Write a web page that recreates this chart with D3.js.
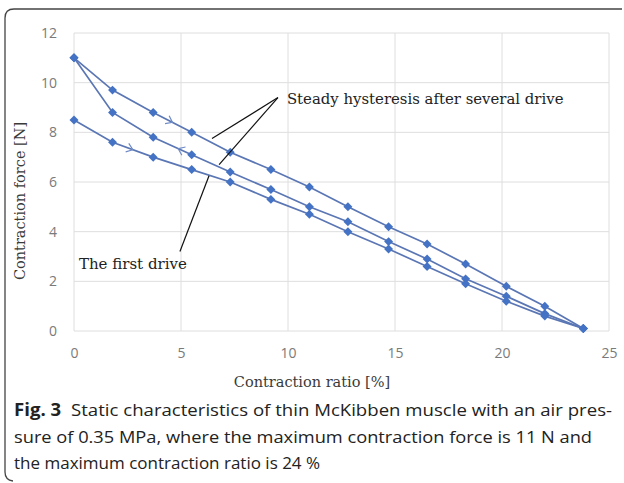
<!DOCTYPE html>
<html>
<head>
<meta charset="utf-8">
<script src="https://cdn.jsdelivr.net/npm/d3@7"></script>
<style>
  html, body { margin: 0; padding: 0; background: #fff; }
  svg { display: block; }
</style>
</head>
<body>
<div id="chart"></div>
<script>
// Static characteristics of thin McKibben muscle (Fig. 3)
var ratio = [0, 1.8, 3.7, 5.5, 7.3, 9.2, 11, 12.8, 14.7, 16.5, 18.3, 20.2, 22, 23.8];
var steadyUpper = [11.0, 9.7, 8.8, 8.0, 7.2, 6.5, 5.8, 5.0, 4.2, 3.5, 2.7, 1.8, 1.0, 0.1];
var steadyLower = [11.0, 8.8, 7.8, 7.1, 6.4, 5.7, 5.0, 4.4, 3.6, 2.9, 2.1, 1.4, 0.7, 0.1];
var firstDrive = [8.5, 7.6, 7.0, 6.5, 6.0, 5.3, 4.7, 4.0, 3.3, 2.6, 1.9, 1.2, 0.6, 0.1];
var xTicks = [0, 5, 10, 15, 20, 25];
var yTicks = [0, 2, 4, 6, 8, 10, 12];

var captionLines = [
  "Static characteristics of thin McKibben muscle with an air pres-",
  "sure of 0.35 MPa, where the maximum contraction force is 11 N and",
  "the maximum contraction ratio is 24 %"
];

(function () {
  var width = 624, height = 483;
  var left = 74, right = 609, top = 33, bottom = 331;
  var lineColor = "#5a76b4", markColor = "#4472c4";
  var serif = "'DejaVu Serif', 'Liberation Serif', serif";

  var svg = d3.select("#chart").append("svg")
    .attr("width", width).attr("height", height);

  // figure frame: top rule and left rule with rounded corners
  svg.append("path")
    .attr("d", "M622,9 L14,9 Q5,9 5,18 L5,472 Q5,480 13,481")
    .attr("fill", "none").attr("stroke", "#444").attr("stroke-width", 1.3);

  var x = d3.scaleLinear().domain([0, 25]).range([left, right]);
  var y = d3.scaleLinear().domain([0, 12]).range([bottom, top]);

  // grid
  svg.append("g").selectAll("line").data(xTicks).join("line")
    .attr("x1", function (d) { return x(d); }).attr("x2", function (d) { return x(d); })
    .attr("y1", y(0)).attr("y2", y(12))
    .attr("stroke", "#dedede").attr("stroke-width", 1);
  svg.append("g").selectAll("line").data(yTicks).join("line")
    .attr("y1", function (d) { return y(d); }).attr("y2", function (d) { return y(d); })
    .attr("x1", x(0)).attr("x2", x(25))
    .attr("stroke", "#dedede").attr("stroke-width", 1);

  // axes (labels only, Excel-like)
  var xAxis = svg.append("g").attr("transform", "translate(0," + (bottom + 14) + ")")
    .call(d3.axisBottom(x).tickValues(xTicks).tickSize(0).tickPadding(3));
  var yAxis = svg.append("g").attr("transform", "translate(" + (left - 17) + ",0)")
    .call(d3.axisLeft(y).tickValues(yTicks).tickSize(0).tickPadding(0));
  [xAxis, yAxis].forEach(function (g) {
    g.select(".domain").remove();
    g.selectAll("text")
      .attr("fill", "#7a7a7a")
      .style("font-family", "'Open Sans', sans-serif")
      .style("font-size", "14px");
  });

  svg.append("text")
    .attr("x", 312).attr("y", 387)
    .attr("text-anchor", "middle")
    .attr("fill", "#3a3a3a")
    .style("font-family", serif).style("font-size", "14.5px")
    .text("Contraction ratio [%]");
  svg.append("text")
    .attr("transform", "translate(25,201) rotate(-90)")
    .attr("text-anchor", "middle")
    .attr("fill", "#3a3a3a")
    .style("font-family", serif).style("font-size", "14.5px")
    .text("Contraction force [N]");

  // series
  var series = [steadyUpper, steadyLower, firstDrive];
  var line = d3.line()
    .x(function (d, i) { return x(ratio[i]); })
    .y(function (d) { return y(d); });

  svg.append("g").selectAll("path").data(series).join("path")
    .attr("d", line)
    .attr("fill", "none").attr("stroke", lineColor).attr("stroke-width", 1.7);

  // Excel-style diamond: a square turned 45 degrees
  var diamond = d3.symbol().type(d3.symbolSquare).size(40);
  series.forEach(function (s) {
    svg.append("g").selectAll("path").data(s).join("path")
      .attr("d", diamond)
      .attr("transform", function (d, i) { return "translate(" + x(ratio[i]) + "," + y(d) + ") rotate(45)"; })
      .attr("fill", markColor);
  });

  // direction chevrons on each branch: [series, segment index, t along segment, reverse]
  var chevrons = [[steadyUpper, 2, 0.5, false], [steadyLower, 2, 0.65, true], [firstDrive, 1, 0.5, false]];
  chevrons.forEach(function (c) {
    var s = c[0], i = c[1], t = c[2];
    var x0 = x(ratio[i]), y0 = y(s[i]), x1 = x(ratio[i + 1]), y1 = y(s[i + 1]);
    var px = x0 + (x1 - x0) * t, py = y0 + (y1 - y0) * t;
    var ang = Math.atan2(y1 - y0, x1 - x0) * 180 / Math.PI + (c[3] ? 180 : 0);
    svg.append("path")
      .attr("d", "M-6,-4.5 L0,0 L-6,4.5")
      .attr("transform", "translate(" + px + "," + py + ") rotate(" + ang + ")")
      .attr("fill", "none").attr("stroke", "#6f8cc8").attr("stroke-width", 1.2);
  });

  // annotations
  var pointers = [
    [[9.53, 9.4], [6.45, 7.75]],
    [[9.53, 9.4], [6.78, 6.7]],
    [[4.95, 3.2], [6.31, 6.25]]
  ];
  svg.append("g").selectAll("line").data(pointers).join("line")
    .attr("x1", function (d) { return x(d[0][0]); }).attr("y1", function (d) { return y(d[0][1]); })
    .attr("x2", function (d) { return x(d[1][0]); }).attr("y2", function (d) { return y(d[1][1]); })
    .attr("stroke", "#111").attr("stroke-width", 1.2);

  svg.append("text")
    .attr("x", x(9.95)).attr("y", y(9.13))
    .attr("fill", "#222")
    .style("font-family", serif).style("font-size", "14.9px")
    .text("Steady hysteresis after several drive");
  svg.append("text")
    .attr("x", x(0.23)).attr("y", y(2.48))
    .attr("fill", "#222")
    .style("font-family", serif).style("font-size", "15px")
    .text("The first drive");

  // caption
  var cap = svg.append("g")
    .style("font-family", "'Open Sans', sans-serif")
    .style("font-size", "17px")
    .attr("fill", "#222");
  var t1 = cap.append("text").attr("x", 14).attr("y", 416);
  t1.append("tspan").style("font-weight", "bold").text("Fig. 3");
  t1.append("tspan").attr("dx", 9).text(captionLines[0]);
  var t2 = cap.append("text").attr("x", 14).attr("y", 443).text(captionLines[1]);
  cap.append("text").attr("x", 14).attr("y", 469).text(captionLines[2]);

  // the printed caption is justified: stretch the first two lines a little
  [[t1, 598], [t2, 578]].forEach(function (p) {
    var len = p[0].node().getComputedTextLength();
    if (len < p[1]) p[0].attr("textLength", p[1]).attr("lengthAdjust", "spacingAndGlyphs");
  });
})();
</script>
</body>
</html>
